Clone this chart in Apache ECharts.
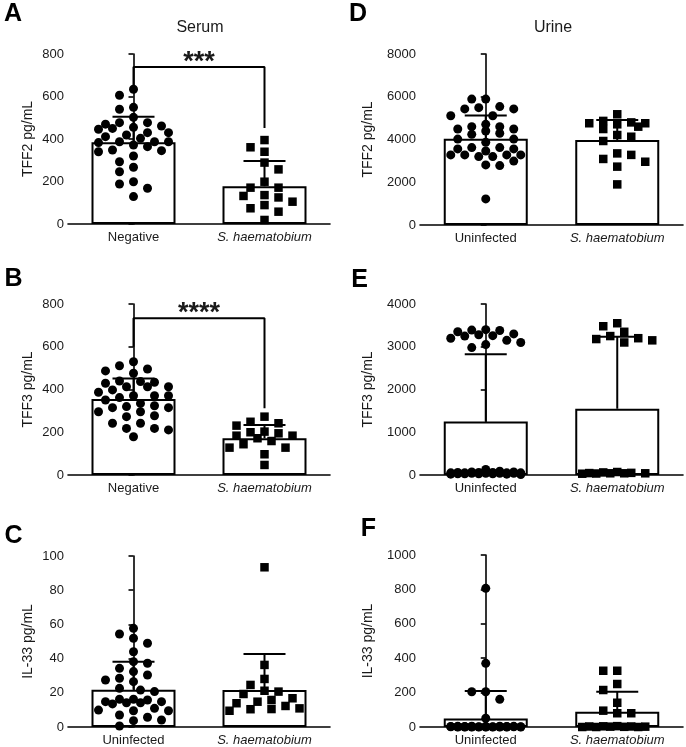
<!DOCTYPE html>
<html><head><meta charset="utf-8">
<script src="https://cdn.jsdelivr.net/npm/echarts@6/dist/echarts.min.js"></script>
<style>html,body{margin:0;padding:0;background:#fff}#c{width:686px;height:747px}</style>
</head><body><div id="c"></div>
<script>
// ---------- DATA ----------
const catsSerumAB = ['Negative', 'S. haematobium'];
const catsOther = ['Uninfected', 'S. haematobium'];

// A: Serum TFF2
const tff2SerumNeg = [634,606,549,540,502,470,477,446,450,461,477,455,419,430,430,411,403,387,387,387,383,372,364,340,345,348,320,293,267,246,188,199,168,129];
const tff2SerumSh = [395,361,340,289,257,199,171,171,136,132,125,105,74,89,58,19];
const tff2SerumMean = [385,178];
const tff2SerumSdTop = [505,297];
const bracketA = [654,739,452]; // left end, bar level, right end
// B: Serum TFF3
const tff3SerumNeg = [530,511,496,487,476,437,434,440,413,413,429,413,398,371,371,371,387,351,362,335,315,324,320,296,296,315,277,242,273,242,218,211,218,179];
const tff3SerumSh = [273,242,249,231,200,203,184,184,195,172,159,128,144,128,97,47];
const tff3SerumMean = [355,172];
const tff3SerumSdTop = [452,234];
const bracketB = [600,733,312];
// C: Serum IL-33
const il33SerumUn = [57.7,51.9,54.4,49,44,37.3,38.2,34.3,32.4,28.5,30.4,27.5,26.5,22.6,21.6,20.7,13.5,14.2,16.2,14.8,16.2,15.8,14.8,14.2,9.5,9.9,9.5,10.9,5.7,7,3.7,4.1,0.6];
const il33SerumSh = [93.4,36.3,28.1,24.6,19.3,20.7,21.2,16.8,13.9,15.8,10.4,10.5,12.3,14.8,9.5,10.9];
const il33SerumMean = [21.8,21.6];
const il33SerumSdTop = [38.2,42.7];
// D: Urine TFF2
const tff2UrineUn = [5890,5890,5430,5540,5490,5430,5110,5110,4600,4490,4710,4600,4490,4400,4290,4240,4020,4020,3870,3620,3560,3460,3280,3560,3280,3620,3280,3200,2990,2780,3200,2810,3280,1220];
const tff2UrineSh = [5180,4760,4600,4210,4760,4800,4870,4490,4710,4130,3930,3350,2960,3090,2730,3280,1900];
const tff2UrineMean = [4040,3976];
const tff2UrineSdTop = [5120,4912];
// E: Urine TFF3
const tff3UrineUn = [3400,3390,3380,3350,3300,3280,3260,3250,3200,3150,3100,3050,2980,40,60,30,50,20,70,10,40,30,50,60,20,40,30,70,50,40,90,130,60,30,50];
const tff3UrineSh = [3550,3480,3350,3250,3200,3180,3150,3100,40,60,50,70,30,40,45,40,35];
const tff3UrineMean = [1250,1550];
const tff3UrineSdTop = [2822,3236];
// F: Urine IL-33
const il33UrineUn = [806,370,205,205,161,51,0,2,5,0,3,1,0,4,2,0,1,3,0,2,5,1,0,3,0,2,4,1,0,2,3,0,1,2];
const il33UrineSh = [327,327,250,215,141,95,80,80,3,0,5,2,0,4,1,0,3,2];
const il33UrineMean = [50,89];
const il33UrineSdTop = [209,205];

// ---------- LAYOUT ----------
const FONT = '"Liberation Sans", Arial, sans-serif';
const panels = [
  {letter:'A', grid:{left:68,top:54,width:262,height:170}, cats:catsSerumAB, max:800, interval:200, name:'TFF2 pg/mL', nameGap:33, g0:tff2SerumNeg, g1:tff2SerumSh, mean:tff2SerumMean, top:tff2SerumSdTop, bracket:bracketA, stars:'***'},
  {letter:'D', grid:{left:420,top:54,width:263,height:171}, cats:catsOther, max:8000, interval:2000, name:'TFF2 pg/mL', nameGap:45, g0:tff2UrineUn, g1:tff2UrineSh, mean:tff2UrineMean, top:tff2UrineSdTop},
  {letter:'B', grid:{left:68,top:304,width:262,height:171}, cats:catsSerumAB, max:800, interval:200, name:'TFF3 pg/mL', nameGap:33, g0:tff3SerumNeg, g1:tff3SerumSh, mean:tff3SerumMean, top:tff3SerumSdTop, bracket:bracketB, stars:'****'},
  {letter:'E', grid:{left:420,top:304,width:263,height:171}, cats:catsOther, max:4000, interval:1000, name:'TFF3 pg/mL', nameGap:45, g0:tff3UrineUn, g1:tff3UrineSh, mean:tff3UrineMean, top:tff3UrineSdTop},
  {letter:'C', grid:{left:68,top:556,width:262,height:171}, cats:catsOther, max:100, interval:20, name:'IL-33 pg/mL', nameGap:33, g0:il33SerumUn, g1:il33SerumSh, mean:il33SerumMean, top:il33SerumSdTop},
  {letter:'F', grid:{left:420,top:555,width:263,height:172}, cats:catsOther, max:1000, interval:200, name:'IL-33 pg/mL', nameGap:45, g0:il33UrineUn, g1:il33UrineSh, mean:il33UrineMean, top:il33UrineSdTop}
];
const letterPos = {A:[13,14],B:[13.5,279],C:[13.5,536],D:[358,14],E:[359.5,280],F:[368.5,529]};

const SYM = 9;
// scatter-dot layout: horizontal offsets (px) on a 7px lattice, dots need 14px sideways or ~9px vertically
function swarm(values, pxPerUnit, maxHalf) {
  const order = values.map((v,i)=>i).sort((a,b)=>values[b]-values[a]);
  const placed = []; const out = new Array(values.length);
  const step = 7, DX = 14, DY = 9.5; let flip = 1;
  for (const i of order) {
    const y = values[i]*pxPerUnit;
    let best = 0, bestScore = -1, found = false;
    for (let k=0; k*step<=maxHalf && !found; k++) {
      const cands = k===0 ? [0] : [flip*k*step, -flip*k*step];
      for (const x of cands) {
        let minD = Infinity;
        for (const p of placed) { const dd = Math.hypot((p[0]-x)/DX, (p[1]-y)/DY); if (dd<minD) minD = dd; }
        if (minD >= 1) { best = x; found = true; break; }
        if (minD > bestScore) { bestScore = minD; best = x; }
      }
    }
    flip = -flip;
    placed.push([best,y]);
    out[i] = best;
  }
  return out;
}

const grids=[], xAxes=[], yAxes=[], series=[], graphics=[];
const axisColor = '#000';
panels.forEach((p, gi) => {
  grids.push(Object.assign({containLabel:false}, p.grid));
  xAxes.push({type:'category', gridIndex:gi, data:p.cats, boundaryGap:true,
    axisLine:{lineStyle:{color:axisColor,width:1.6}},
    axisTick:{alignWithLabel:true,length:5,lineStyle:{color:axisColor,width:1.6}},
    axisLabel:{interval:0, hideOverlap:false, color:'#1a1a1a', fontSize:13, fontFamily:FONT, margin:7,
      formatter: v => v.startsWith('S.') ? '{i|'+v+'}' : v,
      rich:{i:{fontStyle:'italic', fontSize:13, fontFamily:FONT, color:'#1a1a1a'}}}});
  xAxes.push({type:'value', gridIndex:gi, min:-0.5, max:1.5, show:false});
  yAxes.push({type:'value', gridIndex:gi, min:0, max:p.max, interval:p.interval,
    splitLine:{show:false},
    axisLine:{show:true,lineStyle:{color:axisColor,width:1.6}},
    axisTick:{show:true,length:5,lineStyle:{color:axisColor,width:1.6}},
    axisLabel:{color:'#1a1a1a', fontSize:13, fontFamily:FONT, margin:4, formatter: v => String(v)},
    name:p.name, nameLocation:'middle', nameGap:p.nameGap,
    nameTextStyle:{color:'#1a1a1a', fontSize:14, fontFamily:FONT}});
  const cx = 2*gi, vx = 2*gi+1;
  series.push({type:'bar', xAxisIndex:cx, yAxisIndex:gi, data:p.mean, barWidth:84, silent:true,
    itemStyle:{color:'#fff', borderColor:'#000', borderWidth:2}, z:1});
  const pxPerUnit = p.grid.height/p.max;
  const halfBand = p.grid.width/2;
  [p.g0, p.g1].forEach((vals, ci) => {
    const off = swarm(vals, pxPerUnit, 36);
    series.push({type:'scatter', xAxisIndex:vx, yAxisIndex:gi, silent:true,
      symbol: ci===0 ? 'circle' : 'rect', symbolSize: ci===0 ? SYM : SYM-0.5,
      itemStyle:{color:'#000', opacity:1}, z:4,
      data: vals.map((v,i)=>[ci + off[i]/halfBand, v])});
  });
  series.push({type:'custom', xAxisIndex:vx, yAxisIndex:gi, silent:true, z:5,
    data: p.mean.map((m,i)=>[i, m, p.top[i]]),
    encode:{x:0, y:[1,2]},
    renderItem:(params, api) => {
      const a = api.coord([api.value(0), api.value(1)]);
      const b = api.coord([api.value(0), api.value(2)]);
      const st = {stroke:'#000', lineWidth:2};
      return {type:'group', children:[
        {type:'line', shape:{x1:a[0],y1:a[1],x2:b[0],y2:b[1]}, style:st},
        {type:'line', shape:{x1:b[0]-21,y1:b[1],x2:b[0]+21,y2:b[1]}, style:st}]};
    }});
  if (p.bracket) {
    const [l, y, r] = p.bracket;
    series.push({type:'line', xAxisIndex:vx, yAxisIndex:gi, silent:true, symbol:'none', z:5,
      lineStyle:{color:'#000', width:2},
      data:[[0,l],[0,y],[1,y],[1,r]]});
  }
  const lp = letterPos[p.letter];
  graphics.push({type:'text', x:lp[0], y:lp[1], style:{text:p.letter, font:'bold 25px '+FONT, fill:'#000', align:'center', verticalAlign:'middle'}});
});
graphics.push({type:'text', x:200, y:28, style:{text:'Serum', font:'16px '+FONT, fill:'#1a1a1a', align:'center', verticalAlign:'middle'}});
graphics.push({type:'text', x:553, y:28, style:{text:'Urine', font:'16px '+FONT, fill:'#1a1a1a', align:'center', verticalAlign:'middle'}});

const chart = echarts.init(document.getElementById('c'));
chart.setOption({animation:false, backgroundColor:'#fff', grid:grids, xAxis:xAxes, yAxis:yAxes, series:series, graphic:graphics});

// significance stars above brackets
panels.forEach((p, gi) => {
  if (!p.bracket) return;
  const pt = chart.convertToPixel({xAxisIndex:2*gi+1, yAxisIndex:gi}, [0.5, p.bracket[1]]);
  graphics.push({type:'text', x:pt[0], y:pt[1]+9, style:{text:p.stars, font:'bold 27px '+FONT, fill:'#1a1a1a', align:'center', verticalAlign:'bottom'}});
});
chart.setOption({graphic:graphics});
</script></body></html>
